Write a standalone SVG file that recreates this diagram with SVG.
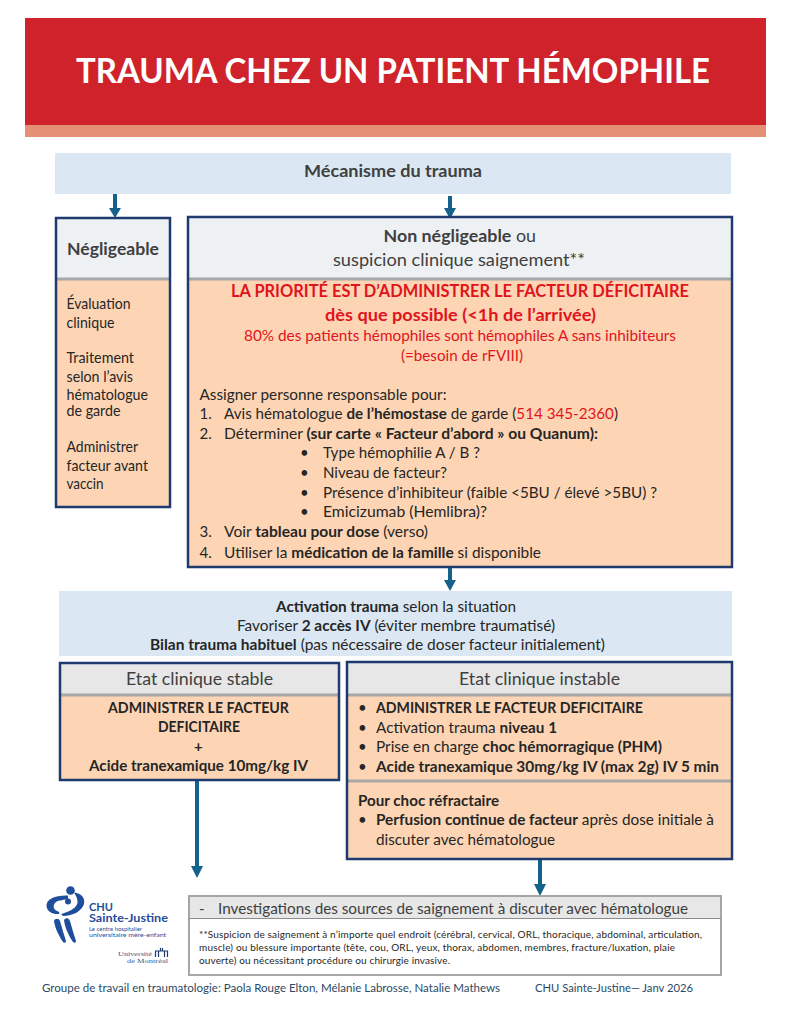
<svg xmlns="http://www.w3.org/2000/svg" width="791" height="1024" viewBox="0 0 791 1024">
<style>
text{font-family:"Lato","Open Sans",sans-serif;font-size:15px;fill:#262626}
.b{font-weight:700}
.g{fill:#404040}
.h{font-size:17px}
.r{fill:#e0141c}
.s{font-size:10px}
.box{fill:none;stroke:#1f3a6e;stroke-width:2.500}
.peach{fill:#fdd5b4}
.head{fill:#eef1f4}
.sep{stroke:#a8a8a8;stroke-width:3}
.conn{stroke:#14618a;stroke-width:4;fill:none}
.tip{fill:#14618a}
.logo{fill:#1f4e9c}
.ft{font-size:12px;fill:#2b4a63}
.um{font-family:"Liberation Serif",serif;font-size:7px;fill:#3a5a90}
</style>
<rect width="791" height="1024" fill="#fff"/>
<g id="title">
<rect x="25" y="18" width="741" height="107" fill="#cf222b"/>
<rect x="25" y="125" width="741" height="12" fill="#e58f77"/>
<text x="76" y="83" textLength="634" lengthAdjust="spacingAndGlyphs" class="b" style="font-size:34px;fill:#fff">TRAUMA CHEZ UN PATIENT HÉMOPHILE</text>
</g>
<g id="mecanisme">
<rect x="55" y="153" width="676" height="41" fill="#dbe8f4"/>
<text x="304" y="177" textLength="178" lengthAdjust="spacingAndGlyphs" class="b g h">Mécanisme du trauma</text>
</g>
<g id="connectors">
<path class="conn" d="M115 194V209M450 196V210M450 568V582M197 781V868M540 860V886"/>
<path class="tip" d="M109 208H121L115 218ZM444 208H456L450 219ZM444 580H456L450 591ZM191 866H203L197 878ZM534 884H546L540 896Z"/>
</g>
<g id="negligeable">
<rect x="56" y="218" width="114" height="289" class="peach"/>
<rect x="56" y="218" width="114" height="61" class="head"/>
<line x1="56" y1="279" x2="170" y2="279" class="sep"/>
<rect x="56" y="218" width="114" height="289" class="box"/>
<text x="67" y="255" textLength="92" lengthAdjust="spacingAndGlyphs" class="b g h">Négligeable</text>
<text x="66.500" y="309" textLength="64" lengthAdjust="spacingAndGlyphs">Évaluation</text>
<text x="66.500" y="328" textLength="48" lengthAdjust="spacingAndGlyphs">clinique</text>
<text x="66.500" y="363" textLength="67.500" lengthAdjust="spacingAndGlyphs">Traitement</text>
<text x="66.500" y="382" textLength="66.500" lengthAdjust="spacingAndGlyphs">selon l’avis</text>
<text x="66.500" y="400" textLength="81.500" lengthAdjust="spacingAndGlyphs">hématologue</text>
<text x="66.500" y="416" textLength="54" lengthAdjust="spacingAndGlyphs">de garde</text>
<text x="66.500" y="452" textLength="71.500" lengthAdjust="spacingAndGlyphs">Administrer</text>
<text x="66.500" y="471" textLength="81.500" lengthAdjust="spacingAndGlyphs">facteur avant</text>
<text x="66.500" y="489" textLength="37" lengthAdjust="spacingAndGlyphs">vaccin</text>
</g>
<g id="non-negligeable">
<rect x="188" y="217" width="544" height="350" class="peach"/>
<rect x="188" y="217" width="544" height="61" class="head"/>
<line x1="188" y1="279" x2="732" y2="279" class="sep"/>
<rect x="188" y="217" width="544" height="350" class="box"/>
<text x="383.500" y="242" textLength="152.500" lengthAdjust="spacingAndGlyphs" class="g h"><tspan class="b">Non négligeable</tspan> ou</text>
<text x="333" y="266" textLength="252" lengthAdjust="spacingAndGlyphs" class="g h">suspicion clinique saignement**</text>
<text x="231" y="297" textLength="458" lengthAdjust="spacingAndGlyphs" class="b r" style="font-size:16.500px">LA PRIORITÉ EST D’ADMINISTRER LE FACTEUR DÉFICITAIRE</text>
<text x="325" y="321" textLength="271" lengthAdjust="spacingAndGlyphs" class="b r" style="font-size:17px">dès que possible (&lt;1h de l’arrivée)</text>
<text x="244" y="341" textLength="432" lengthAdjust="spacingAndGlyphs" class="r">80% des patients hémophiles sont hémophiles A sans inhibiteurs</text>
<text x="401" y="361" textLength="122" lengthAdjust="spacingAndGlyphs" class="r">(=besoin de rFVIII)</text>
<text x="199.500" y="400" textLength="247" lengthAdjust="spacingAndGlyphs">Assigner personne responsable pour:</text>
<text x="199.500" y="419">1.</text>
<text x="224" y="419" textLength="394" lengthAdjust="spacingAndGlyphs">Avis hématologue <tspan class="b">de l’hémostase</tspan> de garde (<tspan class="r">514 345-2360</tspan>)</text>
<text x="199.500" y="439">2.</text>
<text x="224" y="439" textLength="374" lengthAdjust="spacingAndGlyphs">Déterminer <tspan class="b">(sur carte « Facteur d’abord » ou Quanum):</tspan></text>
<text x="300" y="458">•</text><text x="323" y="458" textLength="157" lengthAdjust="spacingAndGlyphs">Type hémophilie A / B ?</text>
<text x="300" y="478">•</text><text x="323" y="478" textLength="124" lengthAdjust="spacingAndGlyphs">Niveau de facteur?</text>
<text x="300" y="498">•</text><text x="323" y="498" textLength="334" lengthAdjust="spacingAndGlyphs">Présence d’inhibiteur (faible &lt;5BU / élevé &gt;5BU) ?</text>
<text x="300" y="517">•</text><text x="323" y="517" textLength="164" lengthAdjust="spacingAndGlyphs">Emicizumab (Hemlibra)?</text>
<text x="199.500" y="537">3.</text>
<text x="224" y="537" textLength="204" lengthAdjust="spacingAndGlyphs">Voir <tspan class="b">tableau pour dose</tspan> (verso)</text>
<text x="199.500" y="558">4.</text>
<text x="224" y="558" textLength="317" lengthAdjust="spacingAndGlyphs">Utiliser la <tspan class="b">médication de la famille</tspan> si disponible</text>
</g>
<g id="activation">
<rect x="59" y="591" width="673" height="65" fill="#dbe8f4"/>
<text x="276" y="612" textLength="240" lengthAdjust="spacingAndGlyphs"><tspan class="b">Activation trauma</tspan> selon la situation</text>
<text x="237" y="631" textLength="318" lengthAdjust="spacingAndGlyphs">Favoriser <tspan class="b">2 accès IV</tspan> (éviter membre traumatisé)</text>
<text x="150" y="650" textLength="455" lengthAdjust="spacingAndGlyphs"><tspan class="b">Bilan trauma habituel</tspan> (pas nécessaire de doser facteur initialement)</text>
</g>
<g id="stable">
<rect x="60" y="663" width="279" height="117" class="peach"/>
<rect x="60" y="663" width="279" height="31" fill="#e7e7e7"/>
<line x1="60" y1="695" x2="339" y2="695" class="sep"/>
<rect x="60" y="663" width="279" height="117" class="box"/>
<text x="126" y="685" textLength="147" lengthAdjust="spacingAndGlyphs" class="g h">Etat clinique stable</text>
<text x="108" y="713" textLength="181" lengthAdjust="spacingAndGlyphs" class="b">ADMINISTRER LE FACTEUR</text>
<text x="158" y="732" textLength="82" lengthAdjust="spacingAndGlyphs" class="b">DEFICITAIRE</text>
<text x="194" y="752" class="b">+</text>
<text x="89" y="771" textLength="219" lengthAdjust="spacingAndGlyphs" class="b">Acide tranexamique 10mg/kg IV</text>
</g>
<g id="instable">
<rect x="347" y="662" width="385" height="197" class="peach"/>
<rect x="347" y="662" width="385" height="33" fill="#e7e7e7"/>
<line x1="347" y1="695" x2="732" y2="695" class="sep"/>
<line x1="347" y1="781" x2="732" y2="781" class="sep"/>
<rect x="347" y="662" width="385" height="197" class="box"/>
<text x="459" y="685" textLength="161" lengthAdjust="spacingAndGlyphs" class="g h">Etat clinique instable</text>
<text x="358" y="713">•</text><text x="376" y="713" textLength="267" lengthAdjust="spacingAndGlyphs" class="b">ADMINISTRER LE FACTEUR DEFICITAIRE</text>
<text x="358" y="733">•</text><text x="376" y="733" textLength="181" lengthAdjust="spacingAndGlyphs">Activation trauma <tspan class="b">niveau 1</tspan></text>
<text x="358" y="752">•</text><text x="376" y="752" textLength="286" lengthAdjust="spacingAndGlyphs">Prise en charge <tspan class="b">choc hémorragique (PHM)</tspan></text>
<text x="358" y="772">•</text><text x="376" y="772" textLength="343" lengthAdjust="spacingAndGlyphs" class="b">Acide tranexamique 30mg/kg IV (max 2g) IV 5 min</text>
<text x="358" y="806" textLength="141" lengthAdjust="spacingAndGlyphs" class="b">Pour choc réfractaire</text>
<text x="358" y="825">•</text><text x="376" y="825" textLength="338" lengthAdjust="spacingAndGlyphs"><tspan class="b">Perfusion continue de facteur</tspan> après dose initiale à</text>
<text x="376" y="845" textLength="179" lengthAdjust="spacingAndGlyphs">discuter avec hématologue</text>
</g>
<g id="investigations">
<rect x="189" y="896" width="532" height="79" fill="#fff" stroke="#a6a6a6" stroke-width="2"/>
<rect x="190" y="897" width="530" height="21" fill="#e7e7e7"/>
<line x1="189" y1="918.500" x2="721" y2="918.500" stroke="#8c8c8c" stroke-width="1"/>
<text x="199" y="914" class="g">-</text>
<text x="218" y="914" textLength="470" lengthAdjust="spacingAndGlyphs" class="g" style="font-size:16px">Investigations des sources de saignement à discuter avec hématologue</text>
<text x="199" y="938" textLength="503" lengthAdjust="spacing" class="s">**Suspicion de saignement à n’importe quel endroit (cérébral, cervical, ORL, thoracique, abdominal, articulation,</text>
<text x="199" y="951" textLength="476" lengthAdjust="spacing" class="s">muscle) ou blessure importante  (tête, cou, ORL, yeux, thorax, abdomen, membres, fracture/luxation, plaie</text>
<text x="199" y="964" textLength="251" lengthAdjust="spacing" class="s">ouverte) ou nécessitant procédure ou chirurgie invasive.</text>
</g>
<g id="logo">
<circle cx="70.500" cy="890.500" r="4.300" class="logo"/>
<circle cx="68" cy="901.500" r="3" class="logo"/>
<path d="M68 895.500C56 895 46 899 46.500 906C47 912 53 914.500 59 914C60 913 59 911.500 57 911C53 909 52.500 905 56 902C59 900 65 900 68 899Z" class="logo"/>
<path d="M74 892.500C81 893 85.500 898 84 904C82 911 73 916 63 916L61 914C68 912 76 909 77.500 903C78 899 76 896 74 892.500Z" class="logo"/>
<path d="M54 921C55 918 59 918 60 921C62 928 64 935 66 941C66 943 64 943 63 942C59 936 55 928 54 921Z" class="logo"/>
<path d="M64 920C66 917 69 918 70 921C72 928 74 935 76 941C76 943 74 943 73 942C69 936 65 928 64 920Z" class="logo"/>
<text x="89" y="911" textLength="24" lengthAdjust="spacingAndGlyphs" class="b logo" style="font-size:11.500px">CHU</text>
<text x="89" y="922" textLength="79" lengthAdjust="spacingAndGlyphs" class="b logo" style="font-size:11.500px">Sainte-Justine</text>
<text x="89" y="931" textLength="53" lengthAdjust="spacingAndGlyphs" class="logo" style="font-size:6px">Le centre hospitalier</text>
<text x="89" y="937" textLength="77" lengthAdjust="spacingAndGlyphs" class="logo" style="font-size:6px">universitaire mère-enfant</text>
<text x="118" y="956" textLength="34" lengthAdjust="spacingAndGlyphs" class="um">Université</text>
<text x="127" y="963" textLength="41" lengthAdjust="spacingAndGlyphs" class="um">de Montréal</text>
<path d="M155.500 957V951H167.500V957M158.500 957V951M164.500 957V951M160.500 951V948M162.500 951V948" fill="none" stroke="#1f3a6e" stroke-width="1.200"/>
</g>
<g id="footer">
<text x="42" y="992" textLength="458" lengthAdjust="spacingAndGlyphs" class="ft">Groupe de travail en traumatologie: Paola Rouge Elton, Mélanie Labrosse, Natalie Mathews</text>
<text x="535" y="992" textLength="158" lengthAdjust="spacingAndGlyphs" class="ft">CHU Sainte-Justine— Janv 2026</text>
</g>
</svg>
